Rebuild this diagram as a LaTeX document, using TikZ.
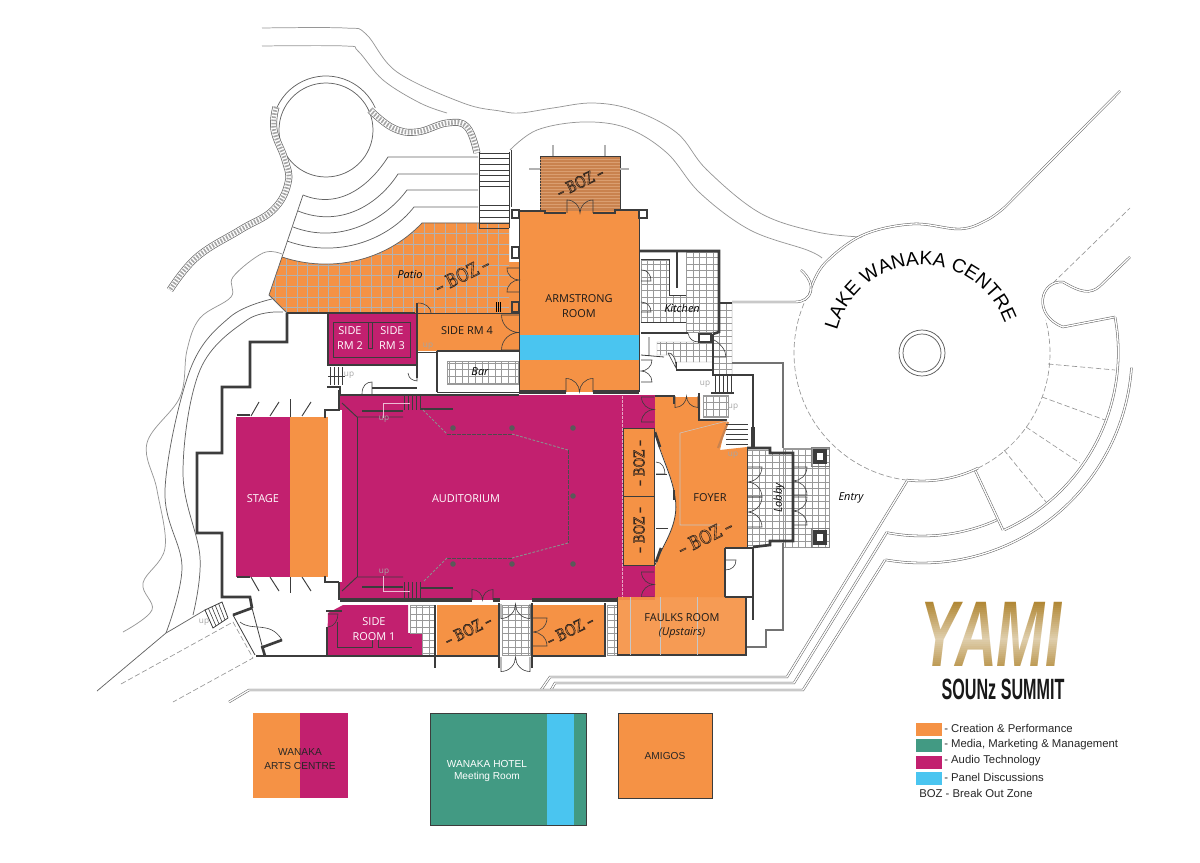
\documentclass[tikz,border=0pt]{standalone}
\usepackage{fontspec}
\usetikzlibrary{decorations.text,calc}
\setmainfont{Open Sans}
\newfontfamily\legendfont{Liberation Sans}
\newfontfamily\bozfont[FakeStretch=0.8]{DejaVu Serif}
\newfontfamily\summitfont[FakeStretch=0.55]{Liberation Sans}
\newfontfamily\yamifont[FakeStretch=0.62]{Liberation Sans}
\definecolor{orangeroom}{RGB}{245,146,69}
\definecolor{magentaroom}{RGB}{194,32,111}
\definecolor{panelblue}{RGB}{74,197,240}
\definecolor{mediagreen}{RGB}{66,154,131}
\definecolor{deckbrown}{RGB}{201,130,78}
\definecolor{deckline}{RGB}{218,158,112}
\definecolor{wallgrey}{RGB}{60,60,60}
\definecolor{sitegrey}{RGB}{150,150,150}
\definecolor{uptext}{RGB}{165,165,165}
\definecolor{yamigold}{RGB}{176,134,50}
\tikzset{
  wall/.style={draw=wallgrey,line width=2pt},
  heavywall/.style={draw=wallgrey,line width=3.2pt},
  thinwall/.style={draw=wallgrey,line width=0.6pt},
  doorline/.style={draw=wallgrey,line width=0.45pt},
  siteline/.style={draw=sitegrey,line width=0.55pt},
  groundline/.style={draw=wallgrey!80,line width=0.55pt},
  doublesite/.style={draw=black!60,line width=0.4pt,double=white,double distance=1pt},
  dashsite/.style={draw=sitegrey,line width=0.5pt,dash pattern=on 4pt off 2pt},
  tileline/.style={draw=black!40,line width=0.3pt,step=6.6},
  patioline/.style={draw=black!30,line width=0.35pt,step=10.6},
  columndot/.style={fill=wallgrey!85},
  roomlabel/.style={font=\fontsize{8.2pt}{10pt}\selectfont,text=black!90,align=center,inner sep=0pt},
  whitelabel/.style={font=\fontsize{8.2pt}{10pt}\selectfont,text=white,align=center,inner sep=0pt},
  placelabel/.style={font=\fontsize{8.2pt}{10pt}\selectfont\itshape,text=black,align=center,inner sep=0pt},
  uplabel/.style={font=\fontsize{6.2pt}{7pt}\selectfont,text=uptext,inner sep=0pt},
  bozlabel/.style={font=\fontsize{14pt}{16pt}\selectfont\bozfont,inner sep=0pt},
  legendlabel/.style={font=\fontsize{8.5pt}{10pt}\selectfont\legendfont,text=black!85,anchor=west,inner sep=0pt},
  boxlabel/.style={font=\fontsize{7.6pt}{9pt}\selectfont\legendfont,align=center,inner sep=0pt},
  stoneband/.style={draw=wallgrey!80,line width=0.5pt,double=white,double distance=4.2pt},
  stonefill/.style={draw=black!35,line width=3.4pt,dash pattern=on 1.2pt off 1.2pt},
}
\newcommand{\bozstroke}[1]{\special{pdf:code q 1 Tr 0.45 w 0.22 0.16 0.12 RG}#1\special{pdf:code Q}}
% double door: hinge point, width factor, rotation
\newcommand{\twoleaf}[4]{%
  \begin{scope}[shift={(#1,#2)},rotate=#4,scale=#3]
    \draw[doorline] (0,0) -- (0,-0.5) .. controls (0.3,-0.5) and (0.5,-0.25) .. (0.5,0) .. controls (0.5,-0.25) and (0.7,-0.5) .. (1,-0.5) -- (1,0);
  \end{scope}}
\newcommand{\tilearea}[1]{%
  \begin{scope}
    \clip #1;
    \draw[tileline] (100,100) grid (900,700);
  \end{scope}
  \draw[draw=black!40,line width=0.3pt] #1;}
\begin{document}
\begin{tikzpicture}[x=0.75pt,y=0.75pt,yscale=-1,xscale=1]
  \useasboundingbox (0,0) rectangle (1200,863);
  % Site lines, north
  \draw[siteline] plot[smooth,tension=0.6] coordinates {(262,28) (345,28) (366,34) (397,72) (463,103) (500,111) (520,113) (553,108) (593,103) (633,110) (677,133) (707,170) (760,213) (817,232) (862,237)};
  \draw[siteline] plot[smooth,tension=0.6] coordinates {(262,46) (345,46) (358,51) (383,80) (420,103) (447,113)};
  \draw[siteline] plot[smooth,tension=0.6] coordinates {(510,150) (537,130) (583,122) (627,128) (667,153) (700,193) (750,230) (807,250) (822,258)};
  % Amphitheatre
  \draw[groundline] (326,130) circle (47);
  \draw[groundline] ([shift={(-155:54)}]326,130) arc[start angle=-155,end angle=-24,radius=54];
  \draw[stoneband] plot[smooth,tension=0.7] coordinates {(276,107) (274,130) (285,160) (288,183) (273,210) (240,230) (197,257) (170,290)};
  \draw[stoneband] plot[smooth,tension=0.7] coordinates {(370,110) (393,128) (417,132) (447,123) (467,127) (477,153)};
  \draw[stonefill] plot[smooth,tension=0.7] coordinates {(276,107) (274,130) (285,160) (288,183) (273,210) (240,230) (197,257) (170,290)};
  \draw[stonefill] plot[smooth,tension=0.7] coordinates {(370,110) (393,128) (417,132) (447,123) (467,127) (477,153)};
  \draw[groundline] (478,157) -- (388,157) .. controls (370,185) and (340,210) .. (303,195);
  \draw[groundline] (478,174) -- (398,174) .. controls (378,205) and (340,228) .. (298,211);
  \draw[groundline] (478,190) -- (407,190) .. controls (385,220) and (340,245) .. (293,227);
  \draw[groundline] (478,207) -- (414,207) .. controls (390,238) and (340,260) .. (287,241);
  \draw[groundline] (303,195) -- (282,257);
  % Patio
  \path[fill=orangeroom] (269,295) -- (282,257) .. controls (330,273) and (385,262) .. (422,223) -- (509,223) -- (509,262) -- (519,262) -- (519,313) -- (287,313) -- cycle;
  \begin{scope}
    \clip (269,295) -- (282,257) .. controls (330,273) and (385,262) .. (422,223) -- (509,223) -- (509,313) -- (287,313) -- cycle;
    \draw[patioline] (100,100) grid (700,500);
  \end{scope}
  \draw[groundline] (282,257) .. controls (330,273) and (385,262) .. (422,223) -- (509,223);
  \draw[groundline] (282,257) -- (269,295) -- (287,313);
  % Stairs to patio
  \draw[thinwall] (479,152) -- (479,228);
  \draw[thinwall] (509,152) -- (509,228);
  \draw[doorline] (511,150) -- (511,207);
  \foreach \stepy in {153,158,164,170,175,181,186,205,210,217,223,228}
    \draw[doorline] (479,\stepy) -- (509,\stepy);
  % Deck
  \path[fill=deckbrown,draw=wallgrey] (540,156) rectangle (620,211);
  \foreach \stepy in {159,162,...,209}
    \draw[draw=deckline,line width=0.3pt] (540,\stepy) -- (620,\stepy);
  \draw[draw=black!30,line width=0.8pt] (553,145) -- (553,156) (605,145) -- (605,156) (529,169) -- (540,169) (620,169) -- (629,169);
  % Rooms
  \path[fill=orangeroom] (519,211) rectangle (639,392);
  \path[fill=panelblue] (519,335) rectangle (639,360);
  \path[fill=orangeroom] (418,313) rectangle (519,351);
  \path[fill=magentaroom] (328,314) rectangle (417,365);
  \path[fill=magentaroom] (340,395) rectangle (655,600);
  \path[fill=magentaroom] (236,417) rectangle (290,577);
  \path[fill=orangeroom] (290,417) rectangle (328,577);
  \path[fill=white] (328,410) rectangle (342,582);
  \path[fill=magentaroom] (328,613) -- (343,605) -- (408,605) -- (408,633) -- (422,633) -- (422,655) -- (327,655) -- cycle;
  \path[fill=orangeroom] (437,605) rectangle (498,655);
  \path[fill=orangeroom] (533,605) rectangle (605,655);
  % Foyer
  \path[fill=orangeroom] (655,397) -- (700,397) -- (700,420) -- (727,420) -- (720,450) -- (747,447) -- (747,547) -- (725,547) -- (725,597) -- (655,597) -- (655,567) .. controls (662,545) and (680,525) .. (675,497) .. controls (673,475) and (660,455) .. (655,430) -- cycle;
  \path[fill=white] (655,432) .. controls (660,455) and (672,475) .. (675,497) .. controls (680,525) and (662,545) .. (655,565) -- cycle;
  \draw[thinwall] (655,432) .. controls (660,455) and (672,475) .. (675,497) .. controls (680,525) and (662,545) .. (655,565);
  \draw[wall] (655,432) -- (660,447) (656,562) -- (661,548);
  \draw[doorline] (656,474) -- (667,474) (656,528) -- (668,528);
  \draw[doorline] (656,462) .. controls (662,462) and (665,468) .. (665,474) -- (656,474);
  \draw[wall] (674,490) -- (674,500);
  \path[fill=orangeroom,draw=wallgrey,line width=0.5pt] (623,428) rectangle (654,496);
  \path[fill=orangeroom,draw=wallgrey,line width=0.5pt] (623,496) rectangle (654,565);
  % Tiled areas
  \tilearea{(641,260) -- (669,260) -- (669,295) -- (686,295) -- (686,252) -- (719,252) -- (719,332) -- (686,332) -- (686,322) -- (641,322) -- cycle}
  \tilearea{(719,303) -- (732,303) -- (732,375) -- (713,375) -- (713,335) -- (719,332) -- cycle}
  \tilearea{(657,342) -- (713,342) -- (713,362) -- (676,362) -- (674,355) -- (657,355) -- cycle}
  \tilearea{(447,361) -- (518,361) -- (518,384) -- (447,384) -- cycle}
  \tilearea{(703,395) -- (728,395) -- (728,417) -- (703,417) -- cycle}
  \tilearea{(783,448) -- (829,448) -- (829,547) -- (783,547) -- cycle}
  \tilearea{(747,450) -- (770,450) -- (770,453) -- (793,453) -- (793,541) -- (770,541) -- (770,545) -- (747,545) -- cycle}
  \tilearea{(502,605) -- (530,605) -- (530,655) -- (502,655) -- cycle}
  \tilearea{(410,605) -- (435,605) -- (435,655) -- (422,655) -- (422,633) -- (410,633) -- cycle}
  \tilearea{(607,605) -- (617,605) -- (617,655) -- (607,655) -- cycle}
  % Building shell
  \draw[wall] (287,313) -- (287,342) -- (250,342) -- (250,387) -- (222,387) -- (222,453) -- (197,453) -- (197,533) -- (222,533) -- (222,597) -- (250,597) -- (252,608);
  \draw[wall] (256,656) -- (328,656);
  \draw[wall] (287,313) -- (415,313);
  \draw[wall] (328,314) -- (328,365) -- (417,365) -- (417,303);
  \draw[thinwall] (415,313) -- (519,313);
  \draw[thinwall] (333,322) rectangle (410,357);
  \draw[thinwall] (368,322) -- (368,348) -- (372,348) -- (372,322);
  \draw[doorline] (418,303) .. controls (426,303) and (431,308) .. (431,313);
  \foreach \stepx in {496,498,500}
    \draw[draw=black,line width=0.7pt] (\stepx,302) -- (\stepx,312);
  \draw[wall] (437,351) -- (519,351);
  \draw[wall] (437,351) -- (437,392);
  \draw[thinwall] (418,352) -- (437,352);
  \draw[wall] (417,365) -- (417,378);
  \draw[doorline] (408,373) .. controls (409,379) and (412,380) .. (417,381) -- (417,373);
  \draw[wall] (327,387) -- (340,387) -- (340,395);
  \draw[wall] (372,388) -- (417,388);
  \foreach \stepx in {330,334,338,342}
    \draw[doorline] (\stepx,367) -- (\stepx,385);
  \draw[doorline] (328,376) -- (345,376);
  \draw[doorline] (362,394) .. controls (362,385) and (367,382) .. (372,382) -- (372,394);
  \draw[wall] (340,395) -- (519,395);
  \draw[thinwall] (437,392) -- (519,392);
  \draw[thinwall] (519,211) -- (519,392);
  \draw[thinwall] (639,211) -- (639,392);
  \draw[wall] (519,211) -- (545,211) -- (545,213) -- (566,213);
  \draw[wall] (593,213) -- (615,213) -- (615,210) -- (640,210);
  \draw[heavywall] (519,392) -- (566,392);
  \draw[heavywall] (593,392) -- (639,392);
  \draw[wall] (512,210) rectangle (519,218);
  \draw[wall] (639,210) rectangle (647,218);
  \draw[wall] (512,247) rectangle (519,258);
  \draw[wall] (512,302) rectangle (519,312);
  % Kitchen walls
  \draw[wall] (639,251) -- (719,251) -- (719,332) -- (713,334);
  \draw[wall] (719,303) -- (732,303);
  \draw[wall] (641,333) -- (688,333);
  \draw[wall] (699,334) rectangle (711,342);
  \draw[wall] (713,334) -- (713,375) -- (753,375) -- (753,437);
  \draw[wall] (676,370) -- (713,370);
  \draw[wall] (677,251) -- (677,288);
  \draw[thinwall] (669,259) -- (669,295) -- (686,295) (641,259) -- (669,259);
  \draw[thinwall] (641,322) -- (686,322);
  \draw[thinwall] (649,337) -- (649,355) (641,355) -- (664,357);
  \draw[thinwall] (676,362) -- (676,370);
  \draw[doorline] (641,270) .. controls (648,270) and (651,275) .. (651,281) -- (641,281);
  \draw[doorline] (641,302) .. controls (648,302) and (651,307) .. (651,312) -- (641,312);
  \draw[doorline] (688,333) .. controls (689,339) and (693,342) .. (699,342);
  \draw[doorline] (714,340) .. controls (720,343) and (726,350) .. (726,357) -- (714,357);
  \draw[doorline] (668,353) .. controls (672,352) and (676,358) .. (676,368) -- (668,353);
  % Foyer walls
  \draw[wall] (699,393) -- (699,420) -- (727,420);
  \draw[wall] (711,393) -- (734,393);
  \draw[wall] (655,396) -- (674,396) -- (674,404);
  \draw[line width=1.6pt,draw=deckbrown] (728,422) -- (718,448);
  \foreach \stepy in {424,429,...,447}
    \draw[doorline] (726,\stepy) -- (748,\stepy);
  \foreach \stepx in {715,719,...,734}
    \draw[doorline] (\stepx,376) -- (\stepx,393);
  \draw[wall] (747,448) -- (770,448) -- (770,453) -- (793,453) -- (793,541) -- (770,541) -- (770,545) -- (753,547);
  \draw[heavywall] (753,427) -- (753,448);
  \draw[thinwall] (747,448) -- (747,547);
  \draw[wall] (725,548) -- (753,548);
  \draw[wall] (725,548) -- (725,597) -- (753,597);
  \draw[wall] (753,547) -- (753,620);
  \draw[draw=black!55,line width=0.8pt] (732,363) -- (783,363) -- (783,448);
  \draw[draw=black!55,line width=0.8pt] (783,543) -- (783,630) -- (766,630) -- (766,647) -- (746,647);
  \draw[doorline] (725,560) -- (736,560) .. controls (736,566) and (732,570) .. (725,570);
  % Foyer ceiling outline
  \draw[draw=black!22,line width=0.4pt] (727,421) -- (680,433) -- (680,525) -- (720,525);
  % Entry columns
  \draw[thinwall,draw=black!50] (811,447) rectangle (829,466);
  \draw[thinwall,draw=black!50] (811,528) rectangle (829,547);
  \draw[heavywall,fill=white] (815,451) rectangle (825,462);
  \draw[heavywall,fill=white] (815,532) rectangle (825,543);
  % Auditorium details
  \draw[wall] (339,390) -- (339,410) -- (325,410) -- (325,418);
  \draw[wall] (339,582) -- (325,582) -- (325,576);
  \draw[wall] (237,415) -- (250,415);
  \draw[wall] (237,577) -- (250,577);
  \draw[heavywall] (340,600) -- (472,600);
  \draw[heavywall] (493,600) -- (500,600);
  \draw[heavywall] (532,600) -- (617,600);
  \draw[wall] (339,582) -- (339,600);
  \draw[wall] (327,656) -- (436,656);
  \draw[wall] (436,656) -- (499,656);
  \draw[wall] (532,656) -- (606,656);
  \draw[wall] (435,605) -- (435,668);
  \draw[wall] (499,603) -- (499,668);
  \draw[wall] (532,603) -- (532,668);
  \draw[wall] (605,603) -- (605,656);
  \draw[wall] (327,627) -- (327,656);
  \draw[wall] (326,611) -- (342,611);
  \draw[thinwall] (337,622) -- (337,647) -- (372,647) -- (372,640);
  \draw[thinwall] (378,640) -- (378,647) -- (412,647);
  \draw[doorline] (328,627) .. controls (334,627) and (338,620) .. (338,614) -- (328,614);
  \draw[draw=wallgrey,line width=0.7pt] (357,417) -- (357,577);
  \draw[draw=wallgrey,line width=0.7pt] (342,403) -- (357,417) -- (403,417);
  \draw[draw=wallgrey,line width=0.7pt] (342,591) -- (357,577) -- (403,577);
  \draw[wall] (362,411) -- (403,411) (362,587) -- (403,587);
  \draw[wall] (420,409) -- (453,409) (420,588) -- (453,588);
  \foreach \stepx in {404,408,...,420}
    \draw[doorline] (\stepx,395) -- (\stepx,410) (\stepx,582) -- (\stepx,600);
  \draw[draw=black!45,line width=0.7pt,dash pattern=on 2pt off 1.2pt] (423,410) -- (447,434);
  \draw[draw=black!70,line width=0.7pt,dash pattern=on 3pt off 0.8pt] (447,434) -- (512,434);
  \draw[draw=black!45,line width=0.7pt,dash pattern=on 2pt off 1.2pt] (512,434) -- (568,450);
  \draw[draw=black!70,line width=0.7pt,dash pattern=on 3pt off 0.8pt] (568,450) -- (568,543);
  \draw[draw=black!45,line width=0.7pt,dash pattern=on 2pt off 1.2pt] (568,543) -- (512,558);
  \draw[draw=black!70,line width=0.7pt,dash pattern=on 3pt off 0.8pt] (512,558) -- (447,558);
  \draw[draw=black!45,line width=0.7pt,dash pattern=on 2pt off 1.2pt] (447,558) -- (423,582);
  \foreach \colx/\coly in {453/428,512/428,573/428,573/496,453/564,512/564,573/564}
    \path[columndot] (\colx,\coly) circle (2.8);
  \draw[draw=white!70!magentaroom,line width=0.5pt] (383,418) -- (383,403) -- (410,403);
  \draw[draw=white!70!magentaroom,line width=0.5pt] (383,576) -- (383,591) -- (410,591);
  \draw[draw=white!60!magentaroom,line width=0.4pt,dash pattern=on 2pt off 1pt] (622,396) -- (622,600);
  % Stage wings
  \foreach \winga/\wingb in {251/259,270/279,302/311}
    \draw[draw=wallgrey,line width=0.7pt] (\winga,416) -- (\wingb,402) (\winga,577) -- (\wingb,591);
  \draw[draw=wallgrey,line width=0.7pt] (290,399) -- (290,417) (290,577) -- (290,593);
  % Side lane and west gardens
  \draw[groundline] plot[smooth,tension=0.6] coordinates {(283,312) (247,320) (200,370) (183,473) (200,557) (193,615)};
  \draw[groundline] plot[smooth,tension=0.6] coordinates {(272,299) (230,317) (190,370) (165,490) (182,567) (166,633)};
  \draw[siteline] plot[smooth,tension=0.6] coordinates {(282,254) (263,253) (233,277) (231,297) (200,318) (187,350) (180,397) (147,443) (157,490) (165,548) (143,583) (152,610) (123,632)};
  \draw[groundline] (97,691) -- (166,633) .. controls (180,625) and (193,617) .. (205,610);
  \draw[thinwall] (205,610) -- (222,602) -- (228,618) -- (213,628) -- cycle;
  \foreach \tread in {0.2,0.4,0.6,0.8}
    \draw[doorline] ($(205,610)!\tread!(222,602)$) -- ($(213,628)!\tread!(228,618)$);
  \draw[dashsite] (121,684) -- (233,622) -- (253,658) -- (173,702);
  \draw[wall] (233,615) -- (252,608);
  \draw[thinwall] (233,615) -- (255,655);
  \draw[thinwall] (252,608) -- (264,653);
  \draw[wall] (263,647) -- (282,640);
  \draw[doorline] (240,622) .. controls (252,632) and (270,620) .. (282,640);
  \draw[wall] (262,646) -- (265,656);
  % Doors
  \twoleaf{567}{213}{26}{0}
  \twoleaf{566}{392}{27}{0}
  \twoleaf{519}{292}{24}{-90}
  \twoleaf{519}{350}{35}{-90}
  \twoleaf{641}{360}{22}{90}
  \twoleaf{472}{600}{21}{0}
  \twoleaf{698}{396}{23}{180}
  \twoleaf{747}{467}{30}{90}
  \twoleaf{747}{497}{30}{90}
  \twoleaf{793}{467}{28}{90}
  \twoleaf{793}{497}{28}{90}
  \twoleaf{530}{657}{29}{180}
  \twoleaf{530}{604}{29}{180}
  \twoleaf{533}{618}{28}{90}
  \twoleaf{654}{597}{25}{-90}
  \twoleaf{654}{422}{25}{-90}
  % Faulks room
  \path[fill=orangeroom,fill opacity=0.92] (617,597) rectangle (746,655);
  \draw[wall] (725,597) -- (746,597) -- (746,655) -- (617,655);
  \draw[draw=black!22,line width=0.3pt] (630,597) -- (630,655) (660,597) -- (660,655) (697,597) -- (697,655);
  \draw[thinwall] (617,597) -- (617,655);
  % Lake Wanaka circle
  \draw[draw=black!65,line width=0.55pt] (922,353) circle (23);
  \draw[draw=black!65,line width=0.55pt] (922,353) circle (19);
  \draw[dashsite] ([shift={(210:128)}]922,353) arc[start angle=210,end angle=97,radius=128];
  \draw[dashsite] ([shift={(64:128)}]922,353) arc[start angle=64,end angle=-15,radius=128];
  \draw[dashsite] (1048,364) -- (1115,370);
  \draw[dashsite] (1042,397) -- (1105,420);
  \draw[dashsite] (1026,427) -- (1080,463);
  \draw[dashsite] (1004,450) -- (1046,502);
  \draw[dashsite] (1053,283) -- (1130,208);
  \draw[doublesite] plot[smooth,tension=0.6] coordinates {(811,288) (825,263) (863,235) (913,224) (960,229) (987,220) (1005,207)} -- (1120,91);
  \draw[doublesite] (732,302) -- (795,302) .. controls (812,302) and (818,285) .. (801,270);
  \draw[doublesite] (1130,257) -- (1100,286) .. controls (1090,295) and (1080,292) .. (1063,282) .. controls (1040,280) and (1032,315) .. (1063,327) -- (1115,317);
  \draw[doublesite] (1115,317) arc[start angle=-10.5,end angle=65.4,radius=195];
  \draw[doublesite] (1003,530) -- (975,470);
  \draw[doublesite] ([shift={(97:128)}]922,353) arc[start angle=97,end angle=64,radius=128];
  \draw[doublesite] ([shift={(101:183)}]922,353) arc[start angle=101,end angle=66,radius=183];
  \draw[doublesite] ([shift={(100:210)}]922,353) arc[start angle=100,end angle=4,radius=210];
  % South road
  \draw[doublesite] (907,481) -- (787,677) -- (550,677) -- (541,690);
  \draw[doublesite] (887,532) -- (794,683) -- (555,683) -- (551,690);
  \draw[doublesite] (885,560) -- (803,690) -- (249,690) -- (229,702);
  % Title on the circle
  \path[decorate,decoration={text along path,text align=center,text={|\fontsize{14.5pt}{16pt}\selectfont\legendfont\color{black}|LAKE WANAKA CENTRE}}] ([shift={(-163:88)}]922,353) arc[start angle=-163,end angle=-22,radius=88];
  % Room labels
  \node (lblArmstrong) [roomlabel] at (579,306) {ARMSTRONG\\[1pt]ROOM};
  \node (lblSide4) [roomlabel] at (467,331) {SIDE RM 4};
  \node (lblSide2) [whitelabel] at (350,338) {SIDE\\[1.5pt]RM 2};
  \node (lblSide3) [whitelabel] at (392,338) {SIDE\\[1.5pt]RM 3};
  \node (lblStage) [whitelabel] at (263,499) {STAGE};
  \node (lblAuditorium) [whitelabel] at (466,499) {AUDITORIUM};
  \node (lblSide1) [whitelabel] at (374,629) {SIDE\\[1.5pt]ROOM 1};
  \node (lblFoyer) [roomlabel] at (710,498) {FOYER};
  \node (lblFaulks) [roomlabel] at (682,626) {FAULKS ROOM\\[1pt]\textit{(Upstairs)}};
  \node (lblPatio) [placelabel] at (410,275) {Patio};
  \node (lblKitchen) [placelabel] at (682,308) {Kitchen};
  \node (lblBar) [placelabel] at (480,372) {Bar};
  \node (lblLobby) [placelabel,rotate=90] at (779,498) {Lobby};
  \node (lblEntry) [placelabel] at (851,498) {Entry};
  % Up labels
  \foreach \upx/\upy [count=\upn] in {428/346,349/375,705/384,733/407,733/455,384/419,384/572,204/622}
    \node (up\upn) [uplabel] at (\upx,\upy) {up};
  % Break out zones
  \node (bozPatio) [bozlabel,rotate=26] at (462,275) {\bozstroke{– BOZ –}};
  \node (bozDeck) [bozlabel,rotate=26,font=\fontsize{12pt}{14pt}\selectfont\bozfont] at (580,182) {\bozstroke{– BOZ –}};
  \node (bozUpper) [bozlabel,rotate=90,font=\fontsize{11pt}{13pt}\selectfont\bozfont] at (639,463) {\bozstroke{– BOZ –}};
  \node (bozLower) [bozlabel,rotate=90,font=\fontsize{11pt}{13pt}\selectfont\bozfont] at (639,530) {\bozstroke{– BOZ –}};
  \node (bozFoyer) [bozlabel,rotate=26] at (705,537) {\bozstroke{– BOZ –}};
  \node (bozSouthA) [bozlabel,rotate=26,font=\fontsize{12pt}{14pt}\selectfont\bozfont] at (468,630) {\bozstroke{– BOZ –}};
  \node (bozSouthB) [bozlabel,rotate=26,font=\fontsize{12pt}{14pt}\selectfont\bozfont] at (570,630) {\bozstroke{– BOZ –}};
  % Other venues
  \path[fill=orangeroom] (253,713) rectangle (300,798);
  \path[fill=magentaroom] (300,713) rectangle (348,798);
  \node (lblArts) [boxlabel,text=black!85] at (300,759) {WANAKA\\[1pt]ARTS CENTRE};
  \path[fill=mediagreen,draw=wallgrey,line width=0.5pt] (430,713) rectangle (586,825);
  \path[fill=panelblue] (547,714) rectangle (574,825);
  \node (lblHotel) [boxlabel,text=white] at (487,771) {WANAKA HOTEL\\[0.5pt]Meeting Room};
  \path[fill=orangeroom,draw=wallgrey,line width=0.5pt] (618,713) rectangle (712,798);
  \node (lblAmigos) [boxlabel,text=black!85] at (665,756) {AMIGOS};
  % Logo
  \node (lblYami) [inner sep=0pt,text=yamigold,font=\fontsize{70pt}{74pt}\selectfont\yamifont\bfseries\itshape] at (991,634) {YAMI};
  \foreach \bandy in {596,598,...,674}
    \pgfmathsetmacro{\bandop}{max(0,0.6-abs(\bandy-638)*0.016)}
    \path[fill=white,fill opacity=\bandop] (905,\bandy) rectangle (1080,\bandy+2);
  \node (lblSounz) [inner sep=0pt,text=black!90,font=\fontsize{22pt}{25pt}\selectfont\summitfont\bfseries] at (1003,689) {SOUNz SUMMIT};
  % Legend
  \path[fill=orangeroom] (916,723) rectangle (942,736);
  \path[fill=mediagreen] (916,739) rectangle (942,752);
  \path[fill=magentaroom] (916,756) rectangle (942,769);
  \path[fill=panelblue] (916,772) rectangle (942,785);
  \node (keyCreation) [legendlabel] at (944,728) {- Creation \& Performance};
  \node (keyMedia) [legendlabel] at (944,745) {- Media, Marketing \& Management};
  \node (keyAudio) [legendlabel] at (944,761) {- Audio Technology};
  \node (keyPanel) [legendlabel] at (944,777) {- Panel Discussions};
  \node (keyBoz) [legendlabel] at (919,793) {BOZ - Break Out Zone};
\end{tikzpicture}
\end{document}
